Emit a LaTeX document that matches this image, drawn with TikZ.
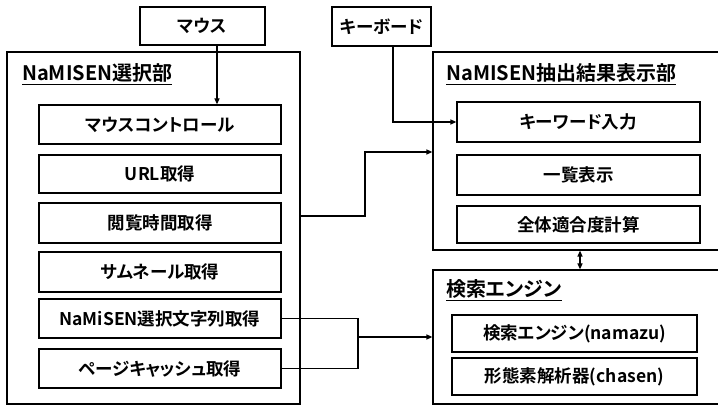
\documentclass[tikz,border=0pt]{standalone}
\usepackage{fontspec}
\setmainfont{Noto Sans CJK JP}[RawFeature=+palt, BoldFont={* Bold}]
\usetikzlibrary{arrows.meta}
\tikzset{
  box/.style={draw, line width=1.2pt, inner sep=0pt, font=\fontsize{17.5}{20}\selectfont\bfseries},
  outer/.style={draw, line width=1.2pt, inner sep=0pt},
  ttl/.style={anchor=west, inner sep=0pt, font=\fontsize{20}{24}\selectfont\bfseries},
  arr/.style={line width=1.2pt, -{Triangle[length=6pt,width=5pt]}},
  arrb/.style={line width=1.2pt, {Triangle[length=6pt,width=5pt]}-{Triangle[length=6pt,width=5pt]}},
  ln/.style={line width=1.2pt}
}
\begin{document}
\begin{tikzpicture}[x=1pt,y=-1pt]
\useasboundingbox (0,0) rectangle (718,406);
% outer boxes
\node[outer, minimum width=293pt, minimum height=352pt] (sel) at (153.5,228) {};
\node[outer, minimum width=292pt, minimum height=198pt] (disp) at (579,151) {};
\node[outer, minimum width=292pt, minimum height=134pt] (se) at (579,337) {};
% titles
\node[ttl] (selt) at (22,74) {\underline{NaMISEN選択部}};
\node[ttl] (dispt) at (446,74) {\underline{NaMISEN抽出結果表示部}};
\node[ttl] (set) at (446,290) {\underline{検索エンジン}};
% input devices
\node[box, minimum width=125pt, minimum height=38pt] (mouse) at (202.5,26) {マウス};
\node[box, minimum width=99pt, minimum height=39pt] (kb) at (381.5,26.5) {キーボード};
% left inner boxes
\node[box, minimum width=242pt, minimum height=39pt] (r1) at (160,124.5) {マウスコントロール};
\node[box, minimum width=242pt, minimum height=38pt] (r2) at (160,174) {URL取得};
\node[box, minimum width=242pt, minimum height=40pt] (r3) at (160,223) {閲覧時間取得};
\node[box, minimum width=242pt, minimum height=40pt] (r4) at (160,272) {サムネール取得};
\node[box, minimum width=242pt, minimum height=39pt] (r5) at (160,318.5) {NaMiSEN選択文字列取得};
\node[box, minimum width=242pt, minimum height=39pt] (r6) at (160,368.5) {ページキャッシュ取得};
% right upper inner boxes
\node[box, minimum width=243pt, minimum height=40pt] (kw) at (578.5,122) {キーワード入力};
\node[box, minimum width=243pt, minimum height=40pt] (ls) at (578.5,175) {一覧表示};
\node[box, minimum width=243pt, minimum height=37pt] (fit) at (578.5,224.5) {全体適合度計算};
% right lower inner boxes
\node[box, minimum width=245pt, minimum height=37pt] (nm) at (574.5,333.5) {検索エンジン(namazu)};
\node[box, minimum width=245pt, minimum height=37pt] (ch) at (574.5,376.5) {形態素解析器(chasen)};
% connectors
\draw[arr] ([xshift=14.5pt]mouse.south) -- ([xshift=14.5pt]mouse.south |- r1.north);
\draw[arr] ([xshift=11.5pt]kb.south) |- (kw.west);
\coordinate (j1) at (365,152);
\draw[arr] ([yshift=7pt]sel.east |- r3.east) -| (j1) -- (j1 -| disp.west);
\coordinate (bx) at (358,0);
\draw[ln] (r5.east) -- (r5.east -| bx) -- (r6.east -| bx) -- (r6.east);
\draw[arr] (bx |- se.west) -- (se.west);
\coordinate (dx) at (580,0);
\draw[arrb] (dx |- disp.south) -- (dx |- se.north);
\end{tikzpicture}
\end{document}
